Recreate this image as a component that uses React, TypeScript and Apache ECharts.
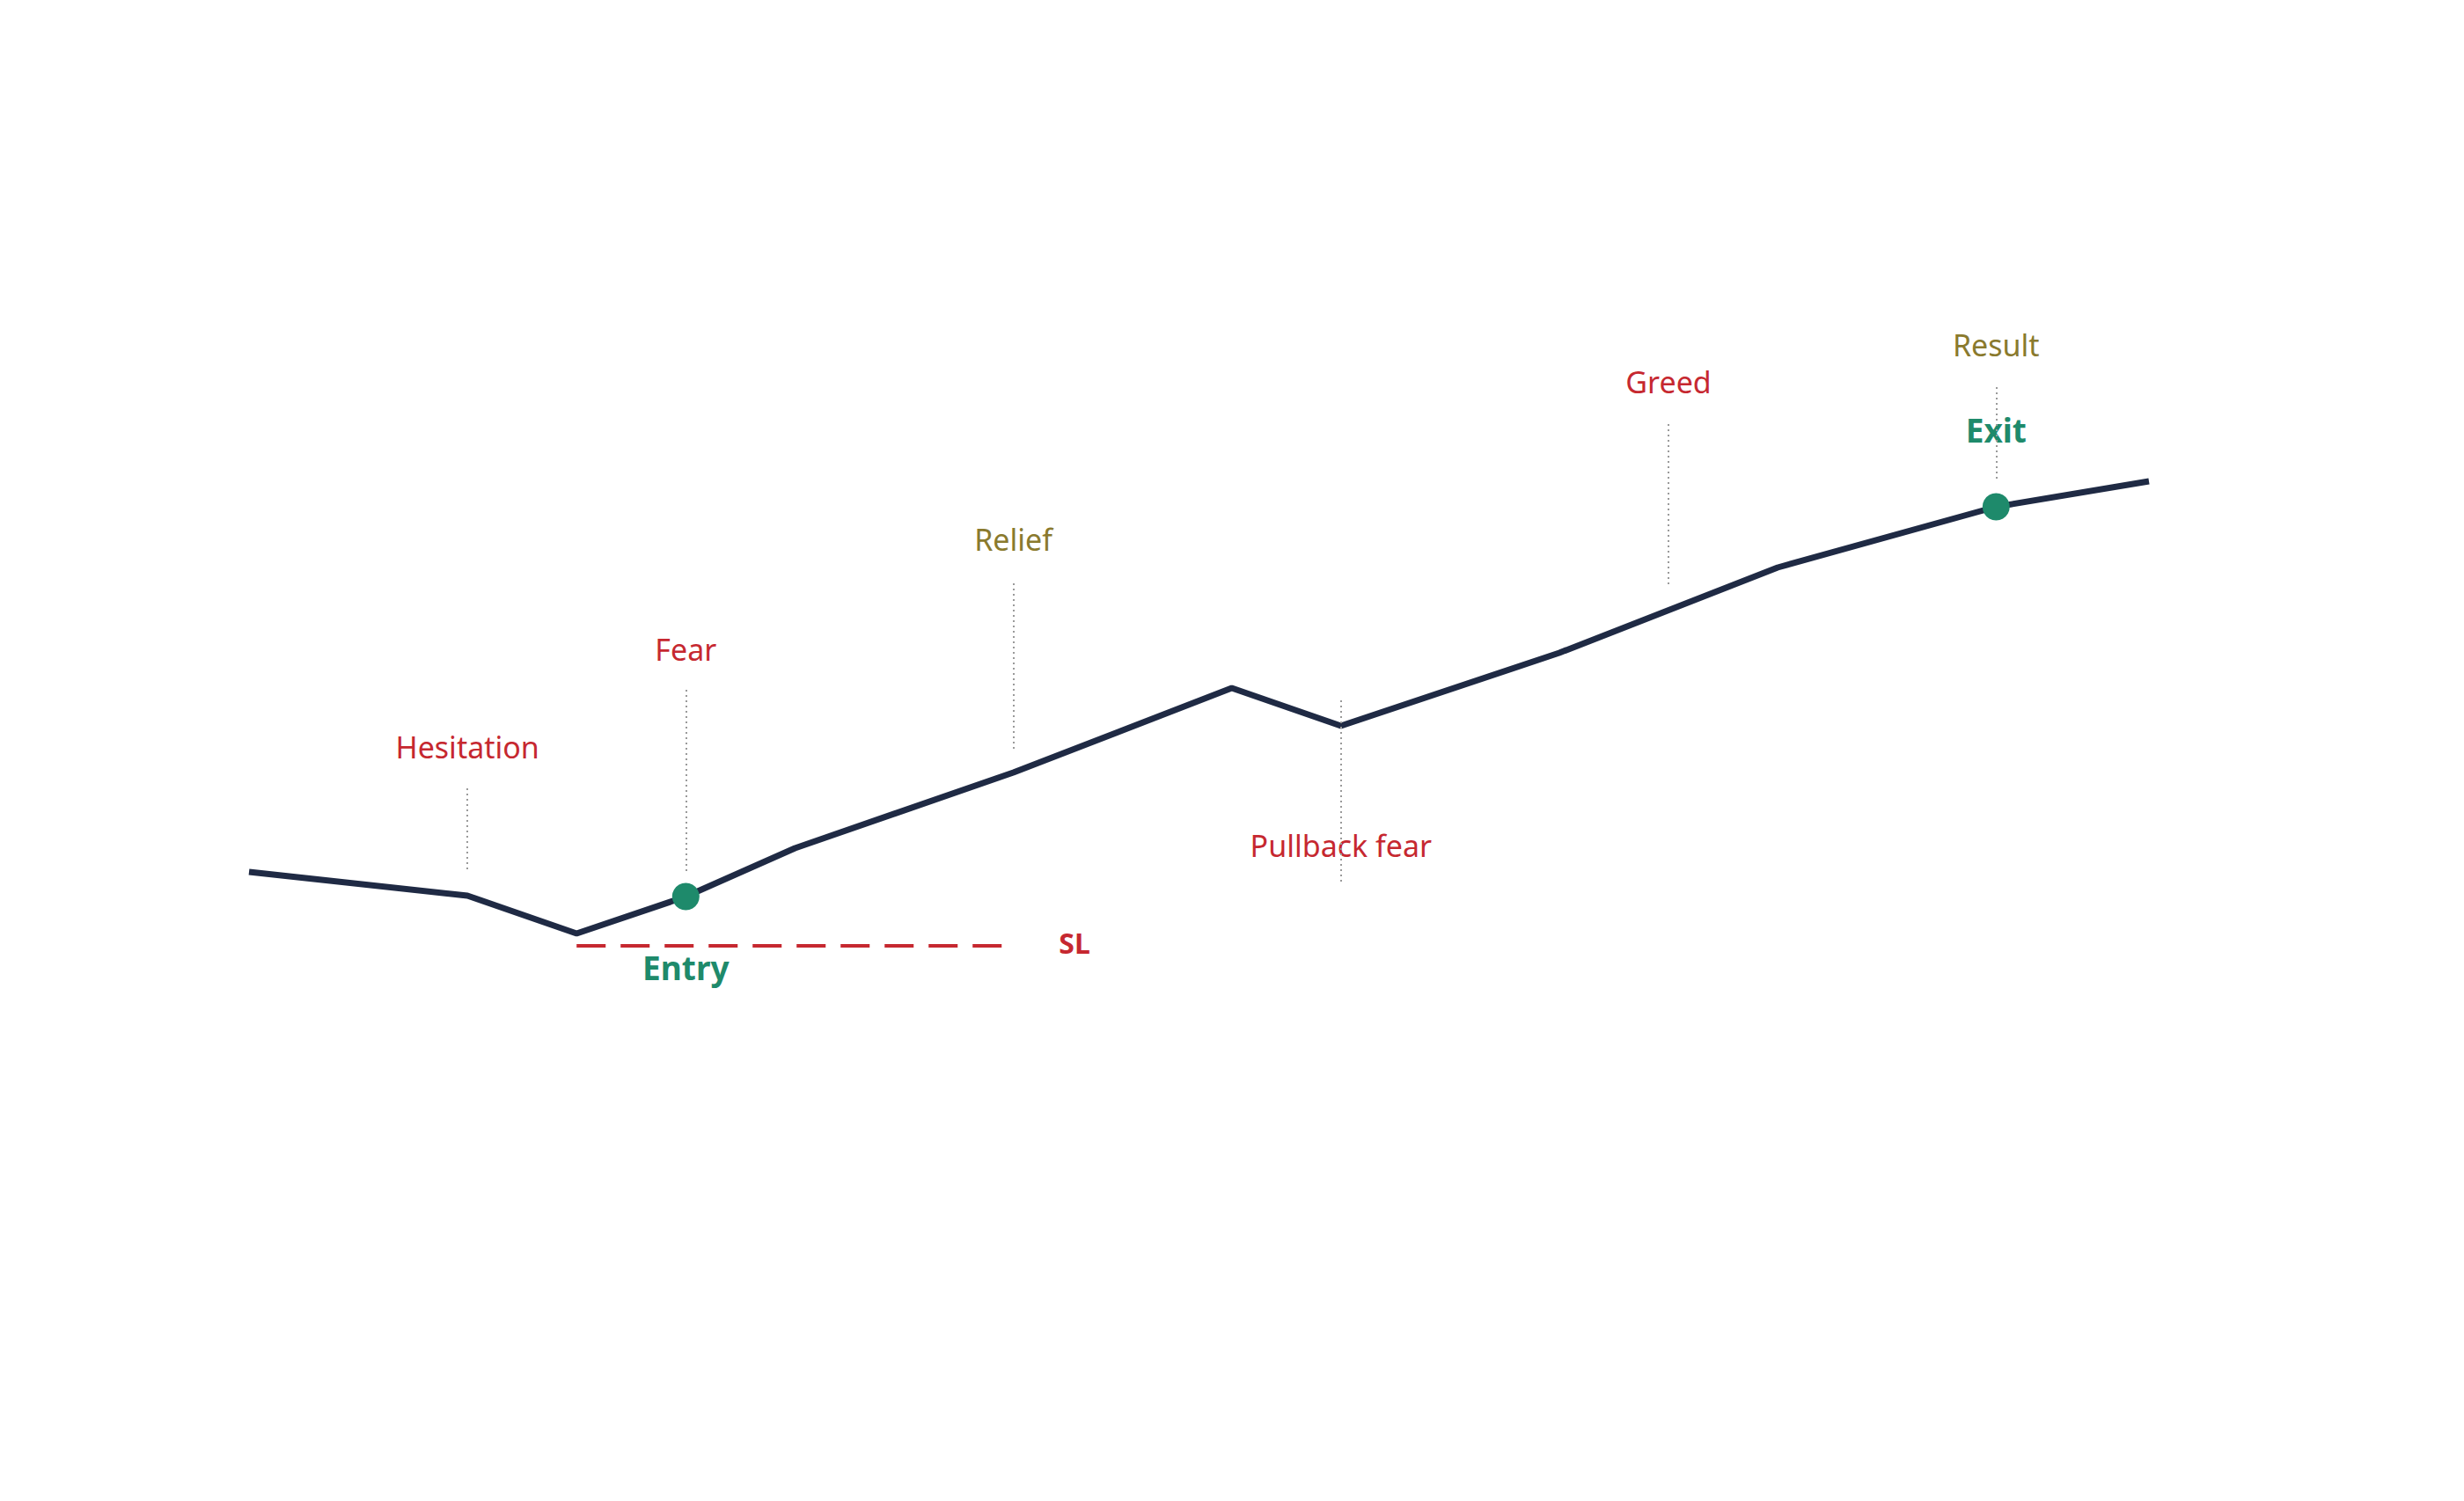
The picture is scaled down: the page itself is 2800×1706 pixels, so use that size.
import { useEffect, useRef } from 'react';
import * as echarts from 'echarts';

// price path (x = time step, y = price level)
const priceX = [0, 10, 15, 20, 25, 35, 45, 50, 60, 70, 80, 87];
const priceY = [31.5, 28.8, 24.5, 28.7, 34.2, 42.8, 52.4, 48.1, 56.4, 66.1, 73.0, 75.9];

// emotion annotations
const emotionNames = ['Hesitation', 'Fear', 'Relief', 'Pullback fear', 'Greed', 'Result'];
const emotionX = [10, 20, 35, 50, 65, 80];
const emotionLabelY = [45.7, 56.8, 69.3, 34.5, 87.2, 91.4];
const guideTop = [41.0, 52.2, 64.3, 51.0, 82.4, 86.6];
const guideBottom = [31.4, 31.4, 45.4, 30.1, 64.0, 75.9];
const emotionKind = ['negative', 'negative', 'positive', 'negative', 'negative', 'positive'];

// trade points
const tradeNames = ['Entry', 'Exit'];
const tradeX = [20, 80];
const tradeY = [28.7, 73.0];
const tradeLabelY = [20.7, 81.8];

// stop loss
const stopLevel = 23.1;
const stopRange = [15, 34.5];
const stopLabel = 'SL';
const stopLabelPos = [37.8, 23.5];

const NAVY = '#1f2a44';
const GREEN = '#1e8a6b';
const RED = '#c62830';
const OLIVE = '#8a7a2e';
const FONT = '"Noto Sans", sans-serif';

export default function App() {
  const chartRef = useRef<HTMLDivElement>(null);

  useEffect(() => {
    if (!chartRef.current) return;
    const chart = echarts.init(chartRef.current, null, { renderer: 'svg' });

    const emotionData = emotionNames.map((name, i) => ({
      name,
      value: [emotionX[i], emotionLabelY[i]],
      label: { color: emotionKind[i] === 'positive' ? OLIVE : RED },
    }));

    const guides = emotionNames.map((_, i) => [
      { coord: [emotionX[i], guideTop[i]] },
      { coord: [emotionX[i], guideBottom[i]] },
    ]);

    const textScatter = {
      type: 'scatter',
      symbolSize: 0,
      silent: true,
      itemStyle: { opacity: 1 },
    };

    chart.setOption({
      animation: false,
      backgroundColor: '#ffffff',
      grid: { left: 283, right: 358, top: 306, bottom: 400 },
      xAxis: { type: 'value', min: 0, max: 87, show: false },
      yAxis: { type: 'value', min: 0, max: 100, show: false },
      series: [
        {
          type: 'line',
          data: priceX.map((x, i) => [x, priceY[i]]),
          symbol: 'none',
          lineStyle: { color: NAVY, width: 7 },
          z: 3,
          markLine: {
            silent: true,
            symbol: 'none',
            label: { show: false },
            lineStyle: { color: '#9a9a9a', width: 2, type: [2, 4] },
            data: guides,
          },
        },
        {
          type: 'line',
          data: [],
          markLine: {
            silent: true,
            symbol: 'none',
            label: { show: false },
            lineStyle: { color: RED, width: 4, type: [33, 17] },
            data: [[{ coord: [stopRange[0], stopLevel] }, { coord: [stopRange[1], stopLevel] }]],
          },
        },
        {
          type: 'scatter',
          data: tradeX.map((x, i) => [x, tradeY[i]]),
          symbolSize: 31,
          itemStyle: { color: GREEN, opacity: 1 },
          z: 5,
        },
        {
          ...textScatter,
          label: {
            show: true,
            position: 'inside',
            formatter: '{b}',
            fontFamily: FONT,
            fontSize: 34,
            opacity: 1,
          },
          data: emotionData,
        },
        {
          ...textScatter,
          label: {
            show: true,
            position: 'inside',
            formatter: '{b}',
            fontFamily: FONT,
            fontSize: 37,
            fontWeight: 'bold',
            color: GREEN,
            opacity: 1,
          },
          data: tradeNames.map((name, i) => ({ name, value: [tradeX[i], tradeLabelY[i]] })),
        },
        {
          ...textScatter,
          label: {
            show: true,
            position: 'inside',
            formatter: '{b}',
            fontFamily: FONT,
            fontSize: 32,
            fontWeight: 'bold',
            color: RED,
            opacity: 1,
          },
          data: [{ name: stopLabel, value: stopLabelPos }],
        },
      ],
    });

    return () => {
      chart.dispose();
    };
  }, []);

  return (
    <div
      ref={chartRef}
      style={{ position: 'fixed', left: 0, top: 0, width: '100vw', height: '100vh', background: '#fff' }}
    />
  );
}
